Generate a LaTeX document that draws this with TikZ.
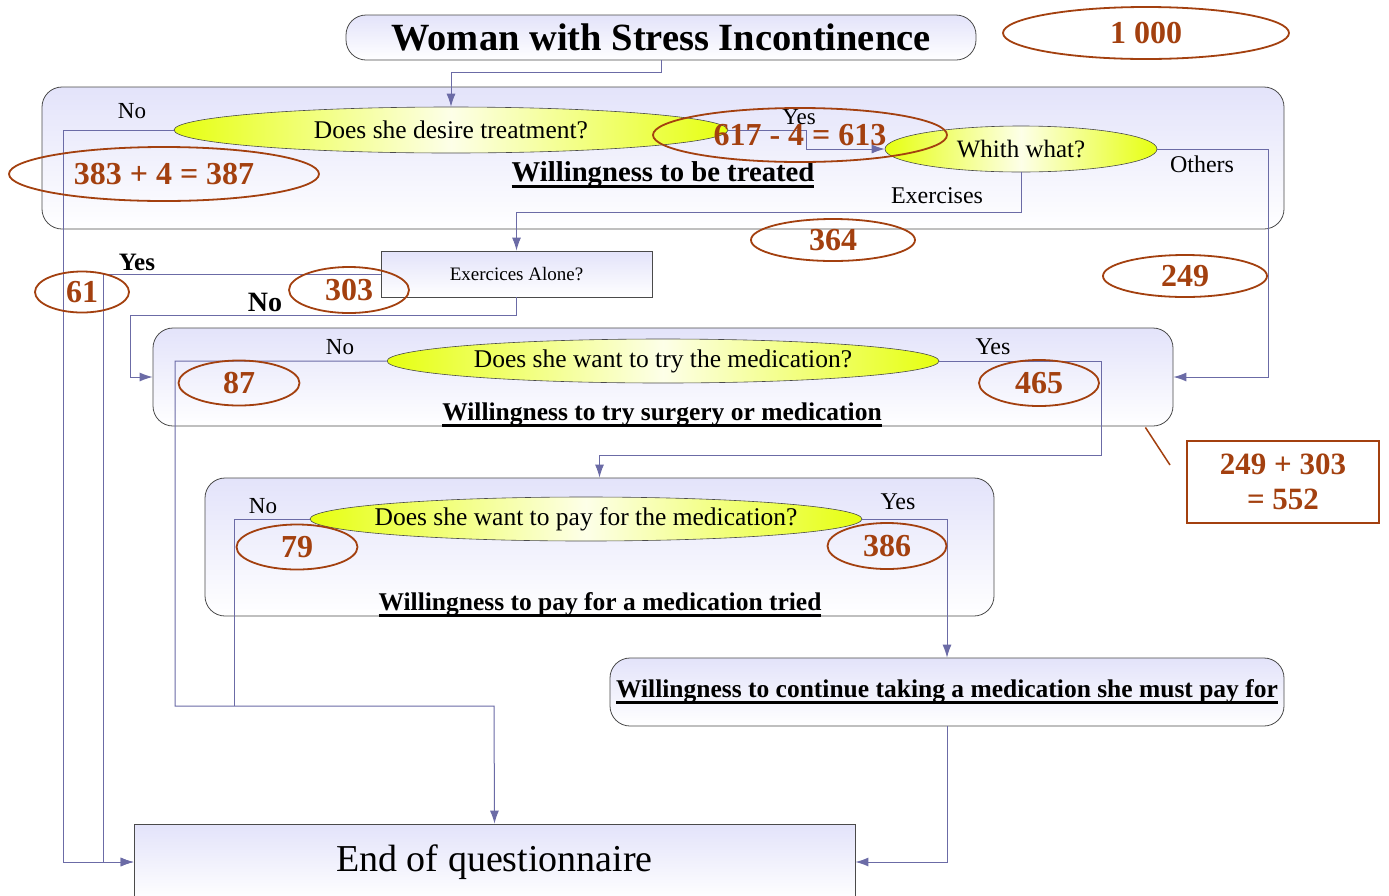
\documentclass[tikz,border=0pt]{standalone}
\usepackage{fontspec}
\setmainfont{Liberation Serif}
\usetikzlibrary{arrows.meta,positioning,shapes.geometric,calc}
\definecolor{flowblue}{HTML}{6B6BA6}
\definecolor{tallyrust}{HTML}{A3400F}
\definecolor{boxlav}{HTML}{E3E3FA}
\definecolor{askyellow}{HTML}{E6FF10}
\definecolor{askpale}{HTML}{FDFFE8}
\definecolor{edgegray}{HTML}{4A4A4A}
\newcommand{\px}[1]{\fontsize{#1}{#1}\selectfont}
\newcommand{\thickul}[1]{\setbox0=\hbox{#1}\rlap{\rule[-0.24em]{\wd0}{0.11em}}\box0}
\tikzset{
  stagebox/.style={
    draw=edgegray,
    line width=0.8pt,
    rounded corners=20pt,
    top color=boxlav,
    bottom color=white,
    inner sep=0pt
  },
  askbox/.style={
    draw=edgegray,
    line width=0.8pt,
    top color=boxlav,
    bottom color=white,
    inner sep=0pt
  },
  question/.style={
    ellipse,
    draw=edgegray,
    line width=0.6pt,
    left color=askyellow,
    right color=askyellow,
    middle color=askpale,
    inner xsep=-100pt,
    inner ysep=0pt,
    font=\px{25.5}
  },
  tally/.style={
    ellipse,
    draw=tallyrust,
    line width=1.8pt,
    inner xsep=0pt,
    inner ysep=-3pt,
    text=tallyrust,
    font=\bfseries\px{32}
  },
  answer/.style={font=\px{23}, inner sep=0pt},
  heading/.style={font=\bfseries\px{25.5}, inner sep=0pt},
  flow/.style={-{Latex[length=13pt,width=9pt]}, line width=1pt, draw=flowblue},
  flowline/.style={line width=1pt, draw=flowblue},
  callout/.style={line width=1.5pt, draw=tallyrust}
}

\begin{document}
\begin{tikzpicture}[x=1pt, y=-1pt]

\path[use as bounding box, fill=white] (0,0) rectangle (1389,895);
\clip (0,0) rectangle (1389,895);

% Start
\node[stagebox, minimum width=630pt, minimum height=45pt, font=\bfseries\px{38.5}] (start) at (661,37.5) {Woman with Stress Incontinence};
\node[tally, minimum width=286pt, minimum height=52pt] (total) at (1146,33) {1 000};

% Willingness to be treated
\node[stagebox, minimum width=1242pt, minimum height=142pt] (treated) at (663,158) {};
\node[question, minimum width=554pt, minimum height=46pt] (desire) at (451,130) {Does she desire treatment?};
\node[question, minimum width=272pt, minimum height=46pt, font=\px{25}] (which) at (1021,149) {Whith what?};
\node[heading, font=\bfseries\px{28.7}] (treatedlbl) at (663,175) {\thickul{Willingness to be treated}};
\node[askbox, minimum width=271pt, minimum height=46pt, font=\px{19}] (alone) at (516.5,274) {Exercices Alone?};

% Willingness to try
\node[stagebox, minimum width=1020pt, minimum height=98pt] (trial) at (663,377) {};
\node[question, minimum width=552pt, minimum height=44pt] (tryask) at (663,361) {Does she want to try the medication?};
\node[heading] (triallbl) at (662,415) {\thickul{Willingness to try surgery or medication}};

% Willingness to pay
\node[stagebox, minimum width=789pt, minimum height=138pt] (paying) at (599.5,547) {};
\node[question, minimum width=552pt, minimum height=44pt] (payask) at (586,519) {Does she want to pay for the medication?};
\node[heading] (payinglbl) at (600,605) {\thickul{Willingness to pay for a medication tried}};

% Continue and end
\node[stagebox, minimum width=674pt, minimum height=68pt, font=\bfseries\px{25.5}] (continuing) at (947,692) {\thickul{Willingness to continue taking a medication she must pay for}};
\node[askbox, minimum width=721pt, minimum height=76pt, font=\px{38}] (finish) at (494.5,862) {End of questionnaire};

% Bends
\coordinate (desirenobend) at (63,130);
\coordinate (desireyesbend) at (806,130);
\coordinate (othersbend) at (1268,149);
\coordinate (exercisebend) at (1021,212);
\coordinate (aloneyesbend) at (103,274);
\coordinate (alonenobend) at (130,315);
\coordinate (trynobend) at (175,361);
\coordinate (endjoin) at (494,706);
\coordinate (tryyesdrop) at (1101,455);
\coordinate (paynodrop) at (234,706);
\coordinate (calloutend) at (1170,465);

% Connectors
\draw[flow] (start.south) -- ++(0,12) -| (desire.north);
\draw[flow] (desire.west) -- (desirenobend) |- (finish.west);
\draw[flow] (desire.east) -- (desireyesbend) |- (which.west);
\draw[flow] (which.east) -- (othersbend) |- (trial.east);
\draw[flow] (which.south) -- (exercisebend) -| (alone.north);
\draw[flow] (alone.west) -- (aloneyesbend) |- (finish.west);
\draw[flow] (alone.south) |- (alonenobend) |- (trial.west);
\draw[flow] (tryask.west) -- (trynobend) |- (endjoin) -- (finish.north);
\draw[flow] (tryask.east) -| (tryyesdrop) -| (paying.north);
\draw[flowline] (payask.west) -| (paynodrop);
\draw[flow] (payask.east) -| (continuing.north);
\draw[flow] (continuing.south) |- (finish.east);

% Answers
\node[answer] (desireno) at (132,111) {No};
\node[answer] (desireyes) at (799,117) {Yes};
\node[answer, font=\px{24}] (others) at (1202,164) {Others};
\node[answer, font=\px{24}] (exercises) at (937,196) {Exercises};
\node[answer, font=\bfseries\px{25}] (aloneyes) at (137,262) {Yes};
\node[answer, font=\bfseries\px{28}] (aloneno) at (265,302) {No};
\node[answer] (tryno) at (340,347) {No};
\node[answer, font=\px{24}] (tryyes) at (993,347) {Yes};
\node[answer] (payno) at (263,506) {No};
\node[answer, font=\px{24}] (payyes) at (898,502) {Yes};

% Tallies
\node[tally, minimum width=310pt, minimum height=54pt] (tally387) at (164,174) {383 + 4 = 387};
\node[tally, minimum width=294pt, minimum height=54pt] (tally613) at (800,135) {617 - 4 = 613};
\node[tally, minimum width=164pt, minimum height=42pt] (tally364) at (833,240) {364};
\node[tally, minimum width=164pt, minimum height=42pt] (tally249) at (1185,276) {249};
\node[tally, minimum width=94pt, minimum height=41pt] (tally61) at (82,292) {61};
\node[tally, minimum width=120pt, minimum height=46pt] (tally303) at (349,290) {303};
\node[tally, minimum width=121pt, minimum height=45pt] (tally87) at (239,383) {87};
\node[tally, minimum width=120pt, minimum height=46pt] (tally465) at (1039,383) {465};
\node[tally, minimum width=121pt, minimum height=45pt] (tally79) at (297,547) {79};
\node[tally, minimum width=119pt, minimum height=46pt] (tally386) at (887,546) {386};

% Sum box
\node[draw=tallyrust, line width=1.8pt, minimum width=192pt, minimum height=82pt, align=center, text=tallyrust, font=\bfseries\px{31}, inner sep=0pt] (sum) at (1283,482) {249 + 303\\[4pt]= 552};
\draw[callout] ($(trial.south east)+(-28,1)$) -- (calloutend);

\end{tikzpicture}
\end{document}
